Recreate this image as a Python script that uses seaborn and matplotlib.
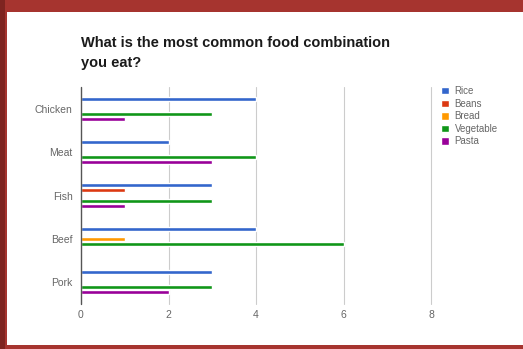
import matplotlib
matplotlib.use("Agg")
import matplotlib.pyplot as plt
import seaborn as sns
import pandas as pd
from matplotlib.patches import Rectangle

categories = ["Chicken", "Meat", "Fish", "Beef", "Pork"]
series = ["Rice", "Beans", "Bread", "Vegetable", "Pasta"]
rice = [4, 2, 3, 4, 3]
beans = [0, 0, 1, 0, 0]
bread = [0, 0, 0, 1, 0]
vegetable = [3, 4, 3, 6, 3]
pasta = [1, 3, 1, 0, 2]
x_ticks = [0, 2, 4, 6, 8]
colors = ["#3366cc", "#dc3912", "#ff9900", "#109618", "#990099"]
title = "What is the most common food combination\nyou eat?"

values = [rice, beans, bread, vegetable, pasta]
rows = []
for s, vals in zip(series, values):
    for c, v in zip(categories, vals):
        rows.append({"Food": c, "Side": s, "Count": v})
df = pd.DataFrame(rows)

sns.set_theme(style="white")
plt.rcParams["font.family"] = ["Liberation Sans", "DejaVu Sans"]

W, H = 523, 349
fig = plt.figure(figsize=(W / 100, H / 100), dpi=100)
fig.patch.set_facecolor("#a6342f")
# white panel
fig.add_artist(Rectangle((7 / W, 1 - 345 / H), 1 - 7 / W, (345 - 12) / H,
                         transform=fig.transFigure, facecolor="white",
                         edgecolor="none", zorder=0))
# darker left shadow strip
fig.add_artist(Rectangle((0, 0), 5 / W, 1, transform=fig.transFigure,
                         facecolor="#7e2420", edgecolor="none", zorder=0))

ax = fig.add_axes([81 / W, 1 - 304 / H, 350 / W, 217 / H])
ax.set_facecolor("none")
sns.barplot(data=df, y="Food", x="Count", hue="Side", order=categories,
            hue_order=series, palette=colors, orient="h", width=0.58,
            gap=0.2, ax=ax, saturation=1, errorbar=None, zorder=3)

ax.set_xlim(0, 8)
ax.set_xticks(x_ticks)
ax.set_xticklabels([str(t) for t in x_ticks])
ax.set_ylim(4.5, -0.5)
ax.set_xlabel("")
ax.set_ylabel("")
for sp in ax.spines.values():
    sp.set_visible(False)
for t in x_ticks[1:]:
    ax.axvline(t, color="#cccccc", lw=0.8, zorder=1, clip_on=False)
ax.axvline(0, color="#555555", lw=1.0, zorder=4, clip_on=False)
ax.tick_params(axis="both", length=0, labelsize=7.5, colors="#666666")
ax.tick_params(axis="y", pad=6)
ax.tick_params(axis="x", pad=4)

handles, labels = ax.get_legend_handles_labels()
ax.legend_.remove()
leg = fig.legend(handles, labels, loc="upper left",
                 bbox_to_anchor=(441 / W, 1 - 86 / H),
                 frameon=False, fontsize=7, handlelength=0.8,
                 handleheight=0.8, handletextpad=0.6, labelspacing=0.27,
                 borderaxespad=0, borderpad=0)
for txt in leg.get_texts():
    txt.set_color("#666666")

fig.text(81 / W, 1 - 36 / H, title, ha="left", va="top", fontsize=10.5,
         fontweight="bold", color="#1a1a1a", linespacing=1.5)

fig.savefig("out.png", dpi=100, facecolor=fig.get_facecolor())
